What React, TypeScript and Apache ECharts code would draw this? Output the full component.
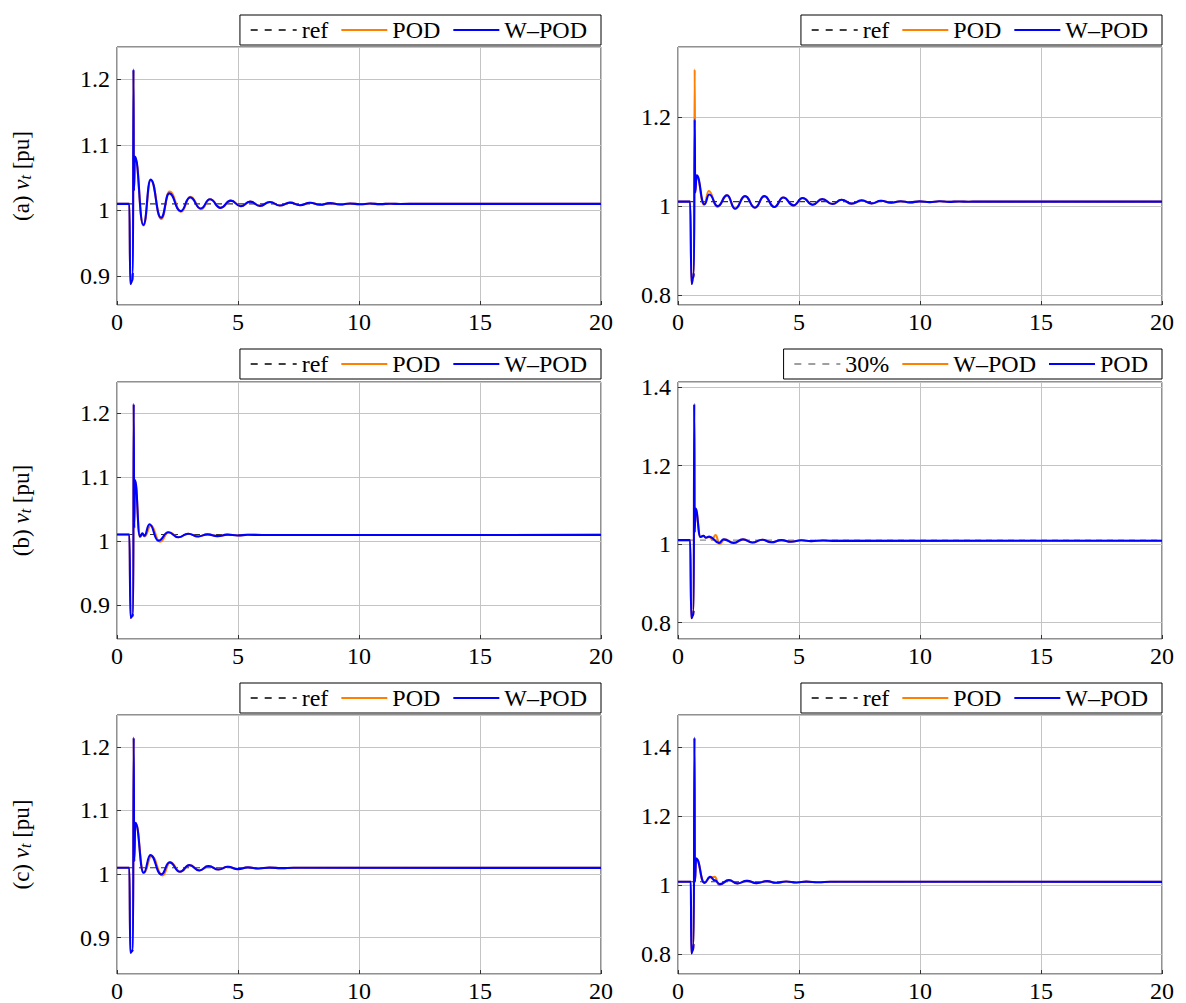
import React, { useEffect, useRef } from 'react';
import * as echarts from 'echarts';

const FONT = '"Liberation Serif", "DejaVu Serif", serif';
const ORANGE = '#ff8000';
const BLUE = '#0000ff';

type Pt = [number, number];

// time axis
const X_MIN = 0;
const X_MAX = 20;
const X_STEP = 5;

// reference level (dashed)
const refLevel: Pt[] = [[0, 1.01], [20, 1.01]];

// (a) left
const aWPOD: Pt[] = [[0, 1.01], [0.51, 1.01], [0.55, 0.888], [0.63, 0.893], [0.66, 0.906], [0.68, 1.215], [0.7, 1.03], [0.74, 1.082], [1.09, 0.978], [1.39, 1.047], [1.82, 0.989], [2.16, 1.026], [2.63, 0.999], [3.02, 1.02], [3.46, 1.003], [3.84, 1.017], [4.28, 1.004], [4.7, 1.015], [5.11, 1.0065], [5.5, 1.0135], [5.91, 1.007], [6.32, 1.013], [6.73, 1.0075], [7.15, 1.012], [7.56, 1.008], [7.98, 1.0117], [8.39, 1.0086], [8.8, 1.0112], [9.21, 1.009], [9.63, 1.0107], [10.05, 1.0094], [10.46, 1.0105], [10.88, 1.0097], [11.3, 1.0103], [11.7, 1.0099], [12.5, 1.0101], [20, 1.0101]];
const aPOD: Pt[] = [[0, 1.01], [0.51, 1.01], [0.55, 0.888], [0.63, 0.893], [0.66, 0.906], [0.68, 1.214], [0.7, 1.03], [0.74, 1.081], [1.09, 0.977], [1.4, 1.046], [1.83, 0.987], [2.17, 1.029], [2.65, 0.998], [3.04, 1.021], [3.47, 1.002], [3.85, 1.017], [4.29, 1.004], [4.71, 1.015], [5.12, 1.0065], [5.5, 1.0135], [5.91, 1.007], [6.32, 1.013], [6.73, 1.0075], [7.15, 1.012], [7.56, 1.008], [7.98, 1.0117], [8.39, 1.0086], [8.8, 1.0112], [9.21, 1.009], [9.63, 1.0107], [10.05, 1.0094], [10.46, 1.0105], [10.88, 1.0097], [11.3, 1.0103], [11.7, 1.0099], [12.5, 1.0101], [20, 1.0101]];

// (a) right
const bWPOD: Pt[] = [[0, 1.01], [0.5, 1.01], [0.56, 0.825], [0.63, 0.84], [0.66, 0.851], [0.69, 1.194], [0.71, 1.03], [0.77, 1.069], [1.09, 1.004], [1.29, 1.026], [1.64, 1.0], [2.03, 1.024], [2.36, 0.994], [2.77, 1.0224], [3.18, 0.9964], [3.57, 1.0224], [3.98, 0.998], [4.35, 1.0194], [4.77, 1.0016], [5.15, 1.018], [5.57, 1.003], [5.96, 1.0157], [6.38, 1.0045], [6.76, 1.0143], [7.17, 1.0054], [7.59, 1.0127], [8.0, 1.006], [8.39, 1.012], [8.8, 1.0075], [9.2, 1.011], [9.58, 1.0083], [9.99, 1.0105], [10.4, 1.0088], [10.8, 1.0108], [11.2, 1.0094], [11.6, 1.0104], [12.0, 1.0097], [12.4, 1.0102], [13.0, 1.01], [20, 1.01]];
const bPOD: Pt[] = [[0, 1.01], [0.5, 1.01], [0.56, 0.825], [0.63, 0.84], [0.66, 0.851], [0.69, 1.307], [0.71, 1.03], [0.77, 1.067], [1.08, 1.003], [1.27, 1.034], [1.63, 0.998], [2.02, 1.025], [2.36, 0.994], [2.77, 1.0224], [3.18, 0.9964], [3.57, 1.0224], [3.98, 0.998], [4.35, 1.0194], [4.77, 1.0016], [5.15, 1.018], [5.57, 1.003], [5.96, 1.0157], [6.38, 1.0045], [6.76, 1.0143], [7.17, 1.0054], [7.59, 1.0127], [8.0, 1.006], [8.39, 1.012], [8.8, 1.0075], [9.2, 1.011], [9.58, 1.0083], [9.99, 1.0105], [10.4, 1.0088], [10.8, 1.0108], [11.2, 1.0094], [11.6, 1.0104], [12.0, 1.0097], [12.4, 1.0102], [13.0, 1.01], [20, 1.01]];

// (b) left
const cWPOD: Pt[] = [[0, 1.01], [0.51, 1.01], [0.56, 0.88], [0.64, 0.883], [0.67, 0.887], [0.69, 1.214], [0.71, 1.02], [0.74, 1.095], [0.95, 1.007], [1.05, 1.012], [1.13, 1.008], [1.34, 1.026], [1.71, 1.0005], [2.12, 1.0135], [2.53, 1.0057], [2.94, 1.0113], [3.35, 1.007], [3.74, 1.0103], [4.15, 1.0075], [4.56, 1.0098], [5.0, 1.0085], [5.4, 1.0096], [6.0, 1.0092], [20, 1.0094]];
const cPOD: Pt[] = [[0, 1.01], [0.51, 1.01], [0.56, 0.88], [0.64, 0.883], [0.67, 0.887], [0.69, 1.213], [0.71, 1.02], [0.74, 1.094], [0.95, 1.006], [1.05, 1.011], [1.14, 1.007], [1.4, 1.024], [1.77, 0.999], [2.15, 1.0135], [2.55, 1.0057], [2.95, 1.0113], [3.36, 1.007], [3.75, 1.0103], [4.15, 1.0075], [4.56, 1.0098], [5.0, 1.0085], [5.4, 1.0096], [6.0, 1.0092], [20, 1.0094]];

// (b) right
const d30: Pt[] = [[0, 1.01], [20, 1.01]];
const dPOD: Pt[] = [[0, 1.01], [0.5, 1.01], [0.55, 0.811], [0.62, 0.818], [0.65, 0.832], [0.67, 1.357], [0.69, 1.03], [0.72, 1.091], [0.93, 1.018], [1.05, 1.021], [1.15, 1.016], [1.29, 1.019], [1.69, 1.003], [1.89, 1.012], [2.3, 1.003], [2.68, 1.012], [3.07, 1.004], [3.48, 1.011], [3.85, 1.0045], [4.27, 1.0101], [4.67, 1.006], [5.1, 1.0095], [5.5, 1.0075], [6.0, 1.009], [6.5, 1.008], [20, 1.0085]];
const dWPOD: Pt[] = [[0, 1.01], [0.5, 1.01], [0.55, 0.811], [0.62, 0.818], [0.65, 0.832], [0.67, 1.355], [0.69, 1.03], [0.72, 1.09], [0.93, 1.018], [1.05, 1.021], [1.15, 1.016], [1.29, 1.018], [1.42, 1.012], [1.55, 1.023], [1.72, 1.0], [1.92, 1.012], [2.32, 1.003], [2.7, 1.012], [3.08, 1.004], [3.49, 1.011], [3.86, 1.0045], [4.28, 1.0101], [4.68, 1.006], [5.1, 1.0095], [5.5, 1.0075], [6.0, 1.009], [6.5, 1.008], [20, 1.0085]];

// (c) left
const eWPOD: Pt[] = [[0, 1.01], [0.51, 1.01], [0.55, 0.8765], [0.63, 0.879], [0.66, 0.882], [0.69, 1.2146], [0.71, 1.02], [0.76, 1.0806], [1.1, 1.002], [1.38, 1.0298], [1.83, 0.9995], [2.17, 1.0184], [2.6, 1.0036], [2.99, 1.0141], [3.4, 1.0057], [3.78, 1.0126], [4.2, 1.0073], [4.58, 1.0115], [5.0, 1.0078], [5.41, 1.0105], [5.85, 1.0088], [6.3, 1.0102], [6.8, 1.0093], [7.3, 1.0099], [20, 1.0097]];
const ePOD: Pt[] = [[0, 1.01], [0.51, 1.01], [0.55, 0.8765], [0.63, 0.879], [0.66, 0.882], [0.69, 1.214], [0.71, 1.02], [0.76, 1.08], [1.11, 1.002], [1.43, 1.028], [1.88, 0.998], [2.2, 1.0184], [2.62, 1.0036], [3.0, 1.0141], [3.41, 1.0057], [3.78, 1.0126], [4.2, 1.0073], [4.58, 1.0115], [5.0, 1.0078], [5.41, 1.0105], [5.85, 1.0088], [6.3, 1.0102], [6.8, 1.0093], [7.3, 1.0099], [20, 1.0097]];

// (c) right
const fWPOD: Pt[] = [[0, 1.01], [0.53, 1.01], [0.55, 0.802], [0.62, 0.812], [0.65, 0.831], [0.68, 1.4287], [0.7, 1.01], [0.75, 1.0775], [1.09, 1.0067], [1.33, 1.024], [1.52, 1.014], [1.73, 1.003], [2.1, 1.0145], [2.45, 1.005], [2.85, 1.0125], [3.25, 1.0058], [3.68, 1.0116], [4.05, 1.007], [4.47, 1.0106], [4.9, 1.0078], [5.3, 1.0102], [5.8, 1.0085], [6.3, 1.0098], [20, 1.0096]];
const fPOD: Pt[] = [[0, 1.01], [0.53, 1.01], [0.55, 0.802], [0.62, 0.812], [0.65, 0.831], [0.68, 1.427], [0.7, 1.01], [0.75, 1.077], [1.09, 1.0067], [1.33, 1.022], [1.52, 1.024], [1.7, 1.0], [2.1, 1.0145], [2.45, 1.005], [2.85, 1.0125], [3.25, 1.0058], [3.68, 1.0116], [4.05, 1.007], [4.47, 1.0106], [4.9, 1.0078], [5.3, 1.0102], [5.8, 1.0085], [6.3, 1.0098], [20, 1.0096]];

type SeriesCfg = { name: string; data: Pt[]; color: string; legendColor?: string; dashed?: boolean };
type PanelCfg = {
  left: number; top: number; width: number; height: number;
  gridLeft: number; gridTop: number; gridHeight: number;
  yMin: number; yMax: number; yStep: number;
  yLabel?: string;
  series: SeriesCfg[];
};

const LCOL = { left: 0, width: 620, gridLeft: 117 };
const RCOL = { left: 620, width: 566, gridLeft: 58 };
const ROWS = [
  { top: 0, height: 334, gridTop: 47, gridHeight: 259 },
  { top: 334, height: 334, gridTop: 48, gridHeight: 258 },
  { top: 668, height: 335, gridTop: 47, gridHeight: 259 },
];

const std = (pod: Pt[], wpod: Pt[]): SeriesCfg[] => [
  { name: 'ref', data: refLevel, color: '#333333', legendColor: '#000000', dashed: true },
  { name: 'POD', data: pod, color: ORANGE },
  { name: 'W–POD', data: wpod, color: BLUE },
];

const PANELS: PanelCfg[] = [
  { ...LCOL, ...ROWS[0], yMin: 0.856, yMax: 1.249, yStep: 0.1, yLabel: '(a)', series: std(aPOD, aWPOD) },
  { ...RCOL, ...ROWS[0], yMin: 0.778, yMax: 1.357, yStep: 0.2, series: std(bPOD, bWPOD) },
  { ...LCOL, ...ROWS[1], yMin: 0.847, yMax: 1.248, yStep: 0.1, yLabel: '(b)', series: std(cPOD, cWPOD) },
  {
    ...RCOL, ...ROWS[1], yMin: 0.758, yMax: 1.413, yStep: 0.2, series: [
      { name: '30%', data: d30, color: '#8c8c8c', legendColor: '#808080', dashed: true },
      { name: 'W–POD', data: dWPOD, color: ORANGE },
      { name: 'POD', data: dPOD, color: BLUE },
    ]
  },
  { ...LCOL, ...ROWS[2], yMin: 0.843, yMax: 1.25, yStep: 0.1, yLabel: '(c)', series: std(ePOD, eWPOD) },
  { ...RCOL, ...ROWS[2], yMin: 0.742, yMax: 1.494, yStep: 0.2, series: std(fPOD, fWPOD) },
];

const PLOT_W = 484;

function buildOption(p: PanelCfg) {
  const plotRight = p.gridLeft + PLOT_W;
  return {
    animation: false,
    backgroundColor: '#ffffff',
    grid: {
      left: p.gridLeft, top: p.gridTop, width: PLOT_W, height: p.gridHeight,
      show: true, borderColor: '#222', borderWidth: 1, backgroundColor: 'transparent',
    },
    legend: {
      top: 15,
      right: p.width - plotRight,
      orient: 'horizontal',
      data: p.series.map((s) => ({
        name: s.name,
        lineStyle: s.dashed
          ? { width: 1.5, type: [7, 7], color: s.legendColor || s.color, opacity: 1 }
          : { width: 2, type: 'solid', color: s.color, opacity: 1 },
      })),
      itemWidth: 46,
      itemHeight: 14,
      itemGap: 12,
      padding: [3, 14, 3, 10],
      borderColor: '#000',
      borderWidth: 1,
      borderRadius: 0,
      selectedMode: false,
      itemStyle: { opacity: 0 },
      textStyle: { fontFamily: FONT, fontSize: 24, color: '#000' },
    },
    xAxis: {
      type: 'value', min: X_MIN, max: X_MAX, interval: X_STEP,
      axisLine: { show: false },
      axisTick: { show: true, inside: true, length: 4, lineStyle: { color: '#333' } },
      splitLine: { show: true, lineStyle: { color: '#c4c4c4', width: 1 } },
      axisLabel: { fontFamily: FONT, fontSize: 24, color: '#000', margin: 5 },
    },
    yAxis: {
      type: 'value', min: p.yMin, max: p.yMax, minInterval: p.yStep, maxInterval: p.yStep,
      axisLine: { show: false },
      axisTick: { show: true, inside: true, length: 4, lineStyle: { color: '#333' } },
      splitLine: { show: true, lineStyle: { color: '#c4c4c4', width: 1 } },
      axisLabel: {
        fontFamily: FONT, fontSize: 24, color: '#000', margin: 7,
        showMinLabel: false, showMaxLabel: false,
        formatter: (v: number) => String(Number(v.toFixed(2))),
      },
      name: p.yLabel ? p.yLabel + ' {v|v}{t|t} [pu]' : '',
      nameLocation: 'middle',
      nameRotate: 90,
      nameGap: 84,
      nameTextStyle: {
        fontFamily: FONT, fontSize: 23, color: '#000',
        rich: {
          v: { fontFamily: FONT, fontSize: 23, fontStyle: 'italic', color: '#000' },
          t: { fontFamily: FONT, fontSize: 16, fontStyle: 'italic', color: '#000', verticalAlign: 'bottom', lineHeight: 10 },
        },
      },
    },
    series: p.series.map((s) => ({
      type: 'line',
      name: s.name,
      data: s.data,
      symbol: 'none',
      smooth: s.dashed ? false : 0.5,
      smoothMonotone: 'x',
      lineStyle: {
        color: s.color,
        width: s.dashed ? 1.1 : 2.1,
        type: s.dashed ? [6, 5] : 'solid',
      },
      itemStyle: { color: s.color },
      emphasis: { disabled: true },
    })),
  };
}

function Panel({ cfg }: { cfg: PanelCfg }) {
  const ref = useRef<HTMLDivElement>(null);
  useEffect(() => {
    const chart = echarts.init(ref.current!, null, { renderer: 'svg' });
    chart.setOption(buildOption(cfg) as any);
    return () => chart.dispose();
  }, [cfg]);
  return (
    <div
      ref={ref}
      style={{ position: 'absolute', left: cfg.left, top: cfg.top, width: cfg.width, height: cfg.height }}
    />
  );
}

export default function App() {
  return (
    <div style={{ position: 'absolute', left: 0, top: 0, width: 1186, height: 1003, background: '#fff' }}>
      {PANELS.map((p, i) => (
        <Panel key={i} cfg={p} />
      ))}
    </div>
  );
}
